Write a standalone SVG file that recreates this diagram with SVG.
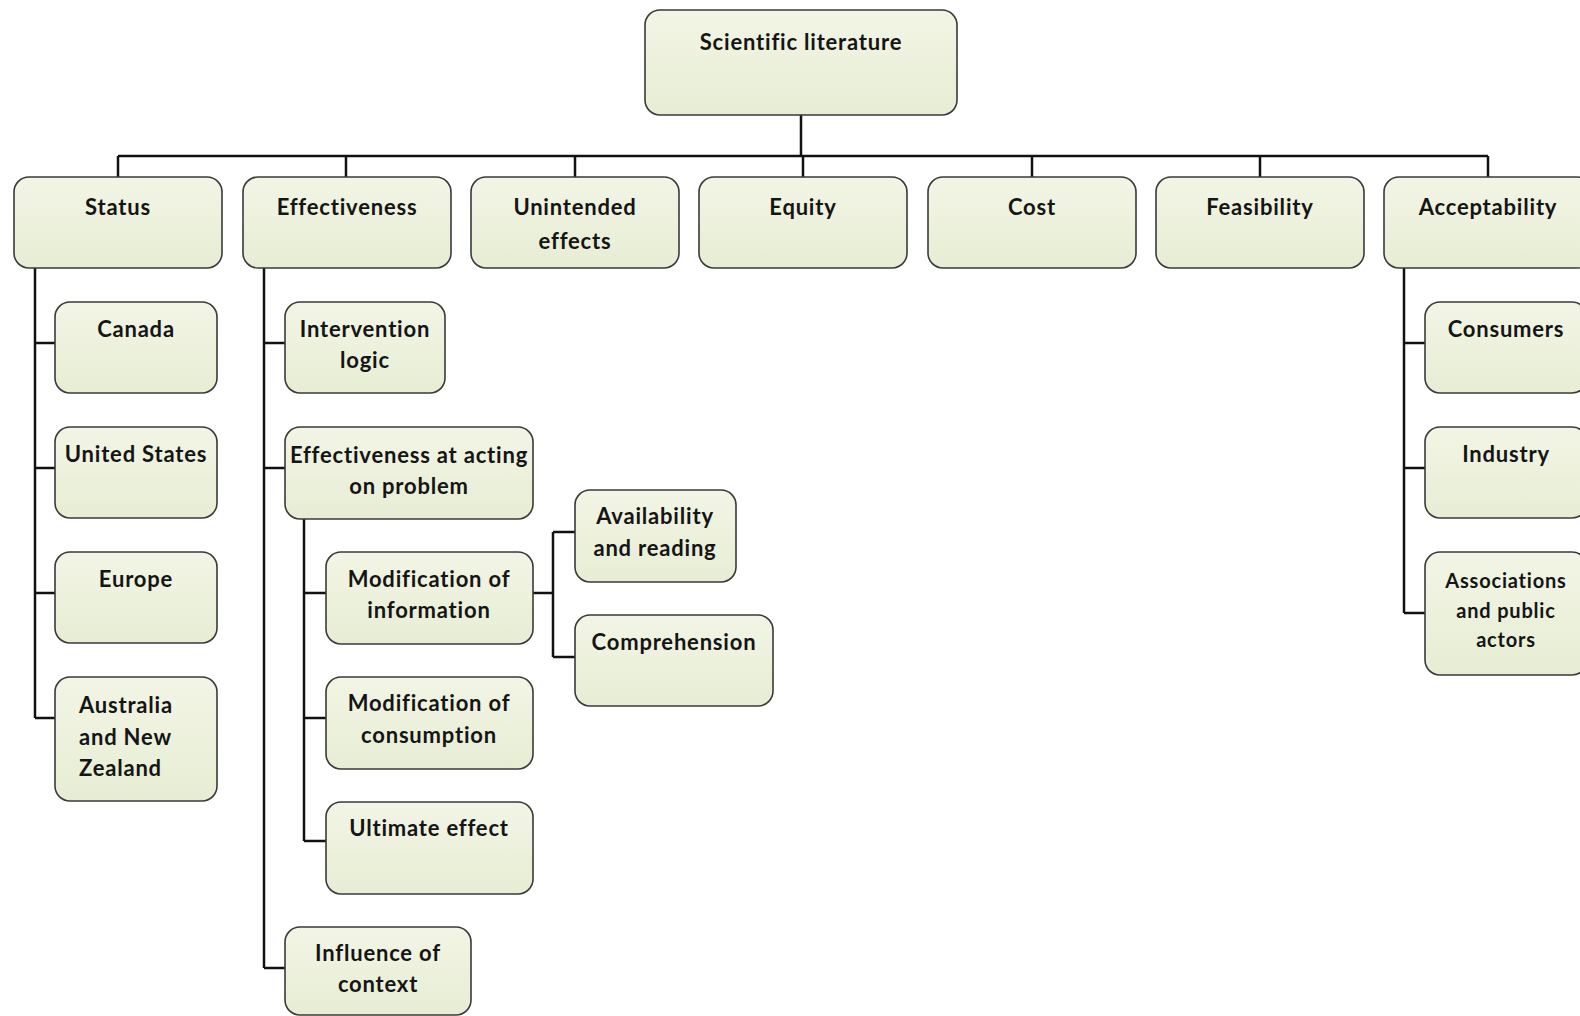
<svg xmlns="http://www.w3.org/2000/svg" width="1580" height="1016" viewBox="0 0 1580 1016">
<defs>
<linearGradient id="g" x1="0" y1="0" x2="0" y2="1">
<stop offset="0" stop-color="#f2f5e5"/>
<stop offset="1" stop-color="#e7edd4"/>
</linearGradient>
<style>
.b{fill:url(#g);stroke:#3a3a3a;stroke-width:1.6}
.t{font-family:Lato,"Liberation Sans",sans-serif;font-weight:bold;font-size:22px;letter-spacing:0.8px;font-variant-ligatures:none;fill:#151515;text-anchor:middle}
.s{font-size:20px}
.l{text-anchor:start}
.c{fill:none;stroke:#111;stroke-width:2.5}
</style>
</defs>
<rect width="1580" height="1016" fill="#fff"/>
<g id="connectors" class="c">
<path d="M801,115V156M118,156H1488M118,156V177M346,156V177M575,156V177M803,156V177M1032,156V177M1260,156V177M1488,156V177"/>
<path d="M35,268V718M35,343H55M35,468H55M35,593H55M35,718H55"/>
<path d="M264,268V968M264,343H285M264,468H285M264,968H285"/>
<path d="M304,519V841M304,593H326M304,718H326M304,841H326"/>
<path d="M533,593H553M553,532V657M553,532H575M553,657H575"/>
<path d="M1404,268V613M1404,343H1425M1404,468H1425M1404,613H1425"/>
</g>
<g id="n-root"><rect class="b" x="645" y="10" width="312" height="105" rx="15"/><text class="t" x="801" y="50">Scientific literature</text></g>
<g id="n-status"><rect class="b" x="14" y="177" width="208" height="91" rx="15"/><text class="t" x="118" y="215">Status</text></g>
<g id="n-effectiveness"><rect class="b" x="243" y="177" width="208" height="91" rx="15"/><text class="t" x="347" y="215">Effectiveness</text></g>
<g id="n-unintended"><rect class="b" x="471" y="177" width="208" height="91" rx="15"/><text class="t" x="575" y="215">Unintended</text><text class="t" x="575" y="249">effects</text></g>
<g id="n-equity"><rect class="b" x="699" y="177" width="208" height="91" rx="15"/><text class="t" x="803" y="215">Equity</text></g>
<g id="n-cost"><rect class="b" x="928" y="177" width="208" height="91" rx="15"/><text class="t" x="1032" y="215">Cost</text></g>
<g id="n-feasibility"><rect class="b" x="1156" y="177" width="208" height="91" rx="15"/><text class="t" x="1260" y="215">Feasibility</text></g>
<g id="n-acceptability"><rect class="b" x="1384" y="177" width="208" height="91" rx="15"/><text class="t" x="1488" y="215">Acceptability</text></g>
<g id="n-canada"><rect class="b" x="55" y="302" width="162" height="91" rx="15"/><text class="t" x="136" y="337">Canada</text></g>
<g id="n-us"><rect class="b" x="55" y="427" width="162" height="91" rx="15"/><text class="t" x="136" y="462">United States</text></g>
<g id="n-europe"><rect class="b" x="55" y="552" width="162" height="91" rx="15"/><text class="t" x="136" y="587">Europe</text></g>
<g id="n-australia"><rect class="b" x="55" y="677" width="162" height="124" rx="15"/><text class="t l" x="79" y="713">Australia</text><text class="t l" x="79" y="745">and New</text><text class="t l" x="79" y="776">Zealand</text></g>
<g id="n-intervention"><rect class="b" x="285" y="302" width="160" height="91" rx="15"/><text class="t" x="365" y="337">Intervention</text><text class="t" x="365" y="368">logic</text></g>
<g id="n-acting"><rect class="b" x="285" y="427" width="248" height="92" rx="15"/><text class="t" x="409" y="463">Effectiveness at acting</text><text class="t" x="409" y="494">on problem</text></g>
<g id="n-modinfo"><rect class="b" x="326" y="552" width="207" height="92" rx="15"/><text class="t" x="429" y="587">Modification of</text><text class="t" x="429" y="618">information</text></g>
<g id="n-modcons"><rect class="b" x="326" y="677" width="207" height="92" rx="15"/><text class="t" x="429" y="711">Modification of</text><text class="t" x="429" y="743">consumption</text></g>
<g id="n-ultimate"><rect class="b" x="326" y="802" width="207" height="92" rx="15"/><text class="t" x="429" y="836">Ultimate effect</text></g>
<g id="n-influence"><rect class="b" x="285" y="927" width="186" height="88" rx="15"/><text class="t" x="378" y="961">Influence of</text><text class="t" x="378" y="992">context</text></g>
<g id="n-availability"><rect class="b" x="575" y="490" width="161" height="92" rx="15"/><text class="t" x="655" y="524">Availability</text><text class="t" x="655" y="556">and reading</text></g>
<g id="n-comprehension"><rect class="b" x="575" y="615" width="198" height="91" rx="15"/><text class="t" x="674" y="650">Comprehension</text></g>
<g id="n-consumers"><rect class="b" x="1425" y="302" width="162" height="91" rx="15"/><text class="t" x="1506" y="337">Consumers</text></g>
<g id="n-industry"><rect class="b" x="1425" y="427" width="162" height="91" rx="15"/><text class="t" x="1506" y="462">Industry</text></g>
<g id="n-associations"><rect class="b" x="1425" y="552" width="162" height="123" rx="15"/><text class="t s" x="1506" y="588">Associations</text><text class="t s" x="1506" y="618">and public</text><text class="t s" x="1506" y="647">actors</text></g>
</svg>
